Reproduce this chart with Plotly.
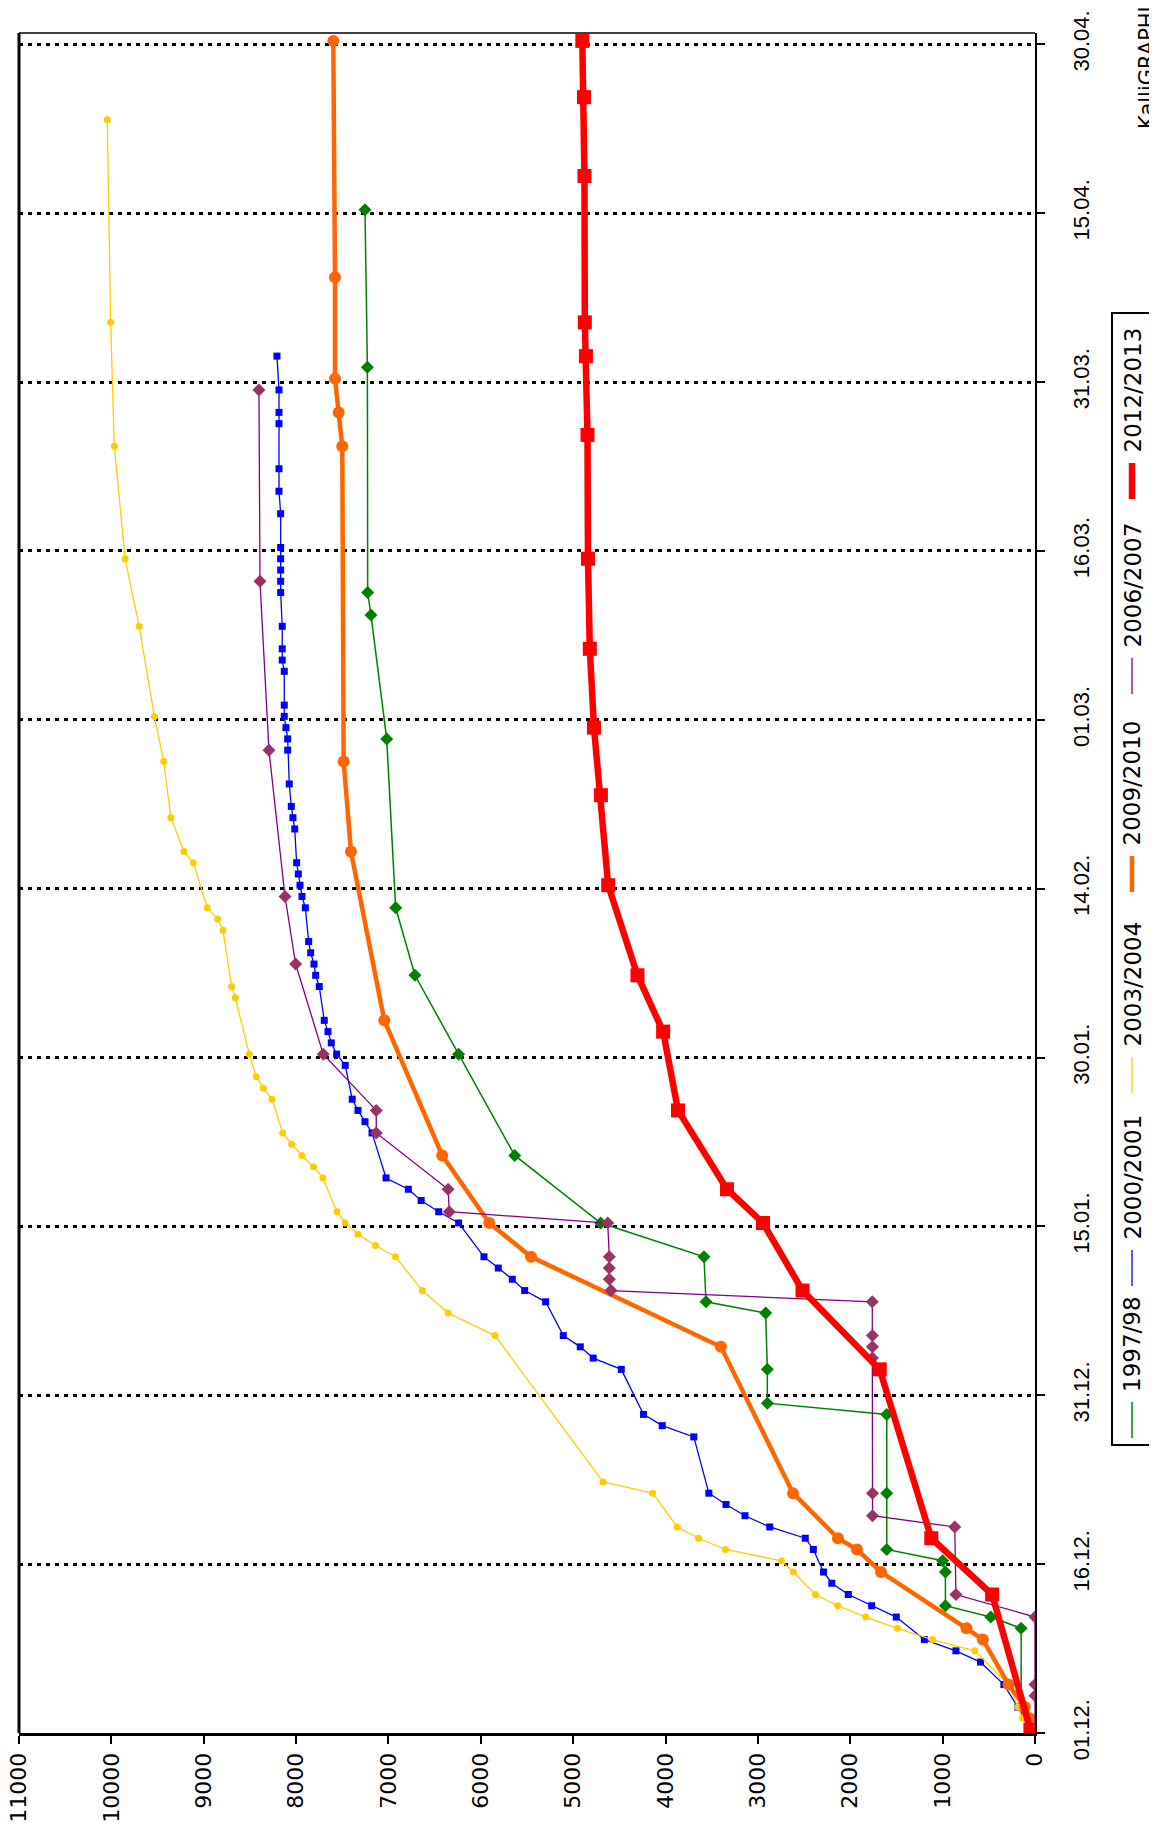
import plotly.graph_objects as go

# ---------------- data ----------------
date_tick_days = [0, 15, 30, 45, 60, 75, 90, 105, 120, 135, 150]
date_tick_text = ["01.12.", "16.12.", "31.12.", "15.01.", "30.01.", "14.02.",
                  "01.03.", "16.03.", "31.03.", "15.04.", "30.04."]
value_ticks = [0, 1000, 2000, 3000, 4000, 5000, 6000, 7000, 8000, 9000, 10000, 11000]

season_names = ["1997/98", "2000/2001", "2003/2004", "2009/2010", "2006/2007", "2012/2013"]

days_1997 = [0, 2, 9, 10, 11, 14, 15, 16, 21, 28, 29, 32, 37, 38, 42, 45, 51, 60, 67, 73, 88, 99, 101, 121, 135]
vals_1997 = [0, 150, 150, 480, 970, 970, 1000, 1605, 1605, 1605, 2898, 2898, 2916, 3562, 3584, 4702, 5633,
             6240, 6713, 6922, 7019, 7189, 7225, 7228, 7254]

days_2000 = [0, 2, 4, 6, 7, 8, 10, 11, 12, 13, 14, 16, 17, 18, 19, 20, 21, 26, 27, 28, 32, 33, 34, 35, 38, 39,
             40, 41, 42, 45, 46, 47, 48, 49, 53, 54, 55, 56, 59, 60, 61, 62, 63, 66, 67, 68, 69, 70, 73,
             74, 75, 76, 77, 80, 81, 82, 84, 87, 88, 89, 90, 91, 94, 95, 96, 98, 101, 102, 103, 104, 105,
             108, 110, 112, 116, 117, 119, 122]
vals_2000 = [50, 185, 337, 590, 856, 1198, 1502, 1768, 2021, 2200, 2290, 2400, 2487, 2872, 3140, 3345, 3531,
             3694, 4036, 4239, 4479, 4783, 4923, 5107, 5298, 5525, 5659, 5811, 5966, 6240, 6456, 6646, 6785,
             7026, 7178, 7254, 7330, 7392, 7468, 7561, 7619, 7655, 7695, 7749, 7788, 7806, 7842, 7864, 7900,
             7936, 7958, 7976, 7994, 8015, 8034, 8052, 8074, 8091, 8091, 8110, 8128, 8128, 8128, 8150, 8150,
             8150, 8167, 8167, 8167, 8167, 8167, 8167, 8185, 8185, 8185, 8185, 8185, 8207]

days_2003 = [1, 2, 4, 7, 8, 9, 10, 11, 12, 14, 15, 16, 17, 18, 21, 22, 35, 37, 39, 42, 43, 44, 45, 46, 49,
             50, 51, 52, 53, 56, 57, 58, 60, 65, 66, 71, 72, 73, 77, 78, 81, 86, 90, 98, 104, 114, 125, 143]
vals_2003 = [134, 185, 286, 653, 1109, 1490, 1832, 2136, 2377, 2617, 2744, 3352, 3642, 3873, 4140, 4677,
             5847, 6354, 6633, 6924, 7140, 7330, 7469, 7558, 7710, 7811, 7938, 8048, 8145, 8261, 8355, 8431,
             8507, 8658, 8698, 8792, 8849, 8962, 9113, 9214, 9356, 9433, 9534, 9699, 9851, 9968, 10008, 10044]

days_2009 = [0, 1, 2, 4, 8, 9, 14, 16, 17, 21, 34, 42, 45, 51, 63, 78, 86, 114, 117, 120, 129, 150]
vals_2009 = [10, 58, 109, 286, 565, 742, 1667, 1927, 2133, 2620, 3400, 5457, 5908, 6418, 7045, 7406, 7485,
             7500, 7539, 7579, 7579, 7597]

days_2006 = [0, 3, 4, 10, 12, 18, 19, 21, 33, 34, 35, 38, 39, 40, 41, 42, 45, 46, 48, 53, 55, 60, 68, 74,
             87, 102, 119]
vals_2006 = [0, 0, 0, 0, 856, 869, 1759, 1759, 1760, 1760, 1760, 1762, 4591, 4609, 4609, 4609, 4626, 6342,
             6354, 7132, 7132, 7706, 8005, 8120, 8294, 8391, 8402]

days_2012 = [0, 12, 17, 32, 39, 45, 48, 55, 62, 67, 75, 83, 89, 96, 104, 115, 122, 125, 138, 145, 150]
vals_2012 = [50, 464, 1123, 1681, 2517, 2945, 3335, 3865, 4026, 4304, 4621, 4700, 4775, 4820, 4840, 4845,
             4862, 4874, 4878, 4883, 4901]

# readings were taken in the morning of each day
READING_TIME = 0.3

# ---------------- layout geometry (screen pixels) ----------------
PAGE_OFFSET = 8                      # default body margin of the html page
W, H = 1157 - PAGE_OFFSET, 1831 - PAGE_OFFSET
SL, SR, ST, SB = 19, 1035, 33, 1733  # plot area edges on screen
PL, PR, PT, PB = SL - PAGE_OFFSET, SR - PAGE_OFFSET, ST - PAGE_OFFSET, SB - PAGE_OFFSET
VMAX, DMAX = 11000, 151
FONT = "DejaVu Sans"
DATE_FONT = "Liberation Sans, Arial, sans-serif"


def paper_x(sx):
    return (sx - SL) / (SR - SL)


def paper_y(sy):
    return (SB - sy) / (SB - ST)


def val_at(sx):
    return VMAX * (SR - sx) / (SR - SL)


def day_at(sy):
    return DMAX * (SB - sy) / (SB - ST)


styles = {
    "1997/98":   dict(line=dict(color="#008000", width=1.5),
                      marker=dict(symbol="diamond", size=10, color="#008000")),
    "2000/2001": dict(line=dict(color="#0000FF", width=1.3),
                      marker=dict(symbol="square", size=7, color="#0000FF")),
    "2003/2004": dict(line=dict(color="#FFCC00", width=1.3),
                      marker=dict(symbol="circle", size=7, color="#FFCC00")),
    "2009/2010": dict(line=dict(color="#FF6600", width=4.5),
                      marker=dict(symbol="circle", size=12, color="#FF6600")),
    "2006/2007": dict(line=dict(color="#800080", width=1.3),
                      marker=dict(symbol="diamond", size=10, color="#993366")),
    "2012/2013": dict(line=dict(color="#FF0000", width=6.5),
                      marker=dict(symbol="square", size=14, color="#FF0000")),
}

series = {
    "1997/98": (days_1997, vals_1997),
    "2000/2001": (days_2000, vals_2000),
    "2003/2004": (days_2003, vals_2003),
    "2009/2010": (days_2009, vals_2009),
    "2006/2007": (days_2006, vals_2006),
    "2012/2013": (days_2012, vals_2012),
}

fig = go.Figure()
for name in season_names:
    d, v = series[name]
    fig.add_trace(go.Scatter(
        x=v, y=[di + READING_TIME for di in d], mode="lines+markers", name=name,
        line=styles[name]["line"], marker=styles[name]["marker"], showlegend=False,
    ))

# ---------------- manual rotated legend ----------------
legend_box = (1112, 1152, 313, 1445)
legend_marker_y = {"1997/98": 1420, "2000/2001": 1268, "2003/2004": 1075,
                   "2009/2010": 874, "2006/2007": 676, "2012/2013": 481}
LEG_X = 1132
shapes = []
annotations = []
shapes.append(dict(type="rect", xref="paper", yref="paper",
                   x0=paper_x(legend_box[0]), x1=paper_x(legend_box[1]),
                   y0=paper_y(legend_box[3]), y1=paper_y(legend_box[2]),
                   line=dict(color="black", width=2), fillcolor="white", layer="below"))
for name in season_names:
    ym = legend_marker_y[name]
    shapes.append(dict(type="line", xref="paper", yref="paper",
                       x0=paper_x(LEG_X), x1=paper_x(LEG_X),
                       y0=paper_y(ym + 18), y1=paper_y(ym - 18),
                       line=dict(color=styles[name]["line"]["color"],
                                 width=styles[name]["line"]["width"])))
    fig.add_trace(go.Scatter(x=[val_at(LEG_X)], y=[day_at(ym)], mode="markers",
                             marker=styles[name]["marker"], cliponaxis=False,
                             showlegend=False, hoverinfo="skip"))
    annotations.append(dict(xref="paper", yref="paper", x=paper_x(LEG_X), y=paper_y(ym - 26),
                            text=name, showarrow=False, textangle=-90,
                            xanchor="center", yanchor="bottom",
                            font=dict(family=FONT, size=23, color="black")))

# frame lines (left thick, top thin)
shapes.append(dict(type="line", xref="paper", yref="paper", x0=0, x1=0, y0=0, y1=1,
                   line=dict(color="black", width=3)))
shapes.append(dict(type="line", xref="paper", yref="paper", x0=0, x1=1, y0=1, y1=1,
                   line=dict(color="black", width=1.5)))

annotations.append(dict(xref="paper", yref="paper", x=paper_x(1147), y=paper_y(131),
                        text="KalliGRAPHIK", showarrow=False, textangle=-90,
                        xanchor="center", yanchor="bottom",
                        font=dict(family=FONT, size=21, color="black")))

fig.update_layout(
    width=W, height=H,
    margin=dict(l=PL, r=W - PR, t=PT, b=H - PB, pad=0, autoexpand=False),
    paper_bgcolor="white", plot_bgcolor="white",
    showlegend=False,
    shapes=shapes, annotations=annotations,
    xaxis=dict(range=[VMAX, 0], tickvals=value_ticks, ticktext=[str(t) for t in value_ticks],
               tickangle=-90, ticks="outside", ticklen=8, tickwidth=1.5, tickcolor="black",
               ticklabeloverflow="allow", automargin=False,
               showgrid=False, zeroline=False, showline=True, linewidth=3, linecolor="black",
               tickfont=dict(family=FONT, size=22, color="black")),
    yaxis=dict(range=[0, DMAX], tickvals=date_tick_days, ticktext=date_tick_text, side="right",
               tickangle=-90, ticks="outside", ticklen=8, tickwidth=1.5, tickcolor="black",
               ticklabelstandoff=18, ticklabeloverflow="allow", automargin=False,
               showgrid=True, gridcolor="black", gridwidth=2.5, griddash="4px,5px",
               zeroline=False, showline=True, linewidth=2, linecolor="black",
               tickfont=dict(family=DATE_FONT, size=22, color="black")),
)

fig.write_html("out.html")
